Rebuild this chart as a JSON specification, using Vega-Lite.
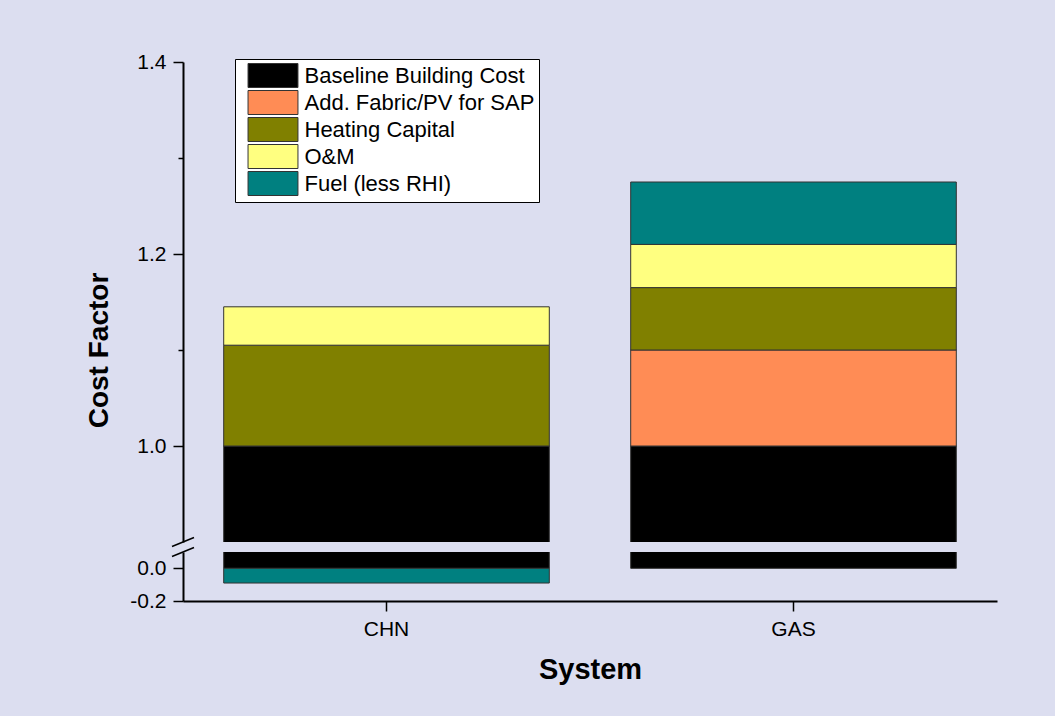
{
  "$schema": "https://vega.github.io/schema/vega-lite/v6.json",
  "background": "#dcdef0",
  "padding": {"left": 85, "top": 51, "right": 58, "bottom": 32},
  "config": {
    "font": "Liberation Sans",
    "view": {"stroke": null},
    "axis": {"labelColor": "black", "titleColor": "black", "domainColor": "black", "tickColor": "black", "grid": false}
  },
  "datasets": {
    "costs": [
      {"system": "CHN", "component": "Baseline Building Cost", "value": 1.0, "k": 1},
      {"system": "CHN", "component": "Heating Capital", "value": 0.105, "k": 3},
      {"system": "CHN", "component": "O&M", "value": 0.04, "k": 4},
      {"system": "CHN", "component": "Fuel (less RHI)", "value": -0.09, "k": 5},
      {"system": "GAS", "component": "Baseline Building Cost", "value": 1.0, "k": 1},
      {"system": "GAS", "component": "Add. Fabric/PV for SAP", "value": 0.1, "k": 2},
      {"system": "GAS", "component": "Heating Capital", "value": 0.065, "k": 3},
      {"system": "GAS", "component": "O&M", "value": 0.045, "k": 4},
      {"system": "GAS", "component": "Fuel (less RHI)", "value": 0.065, "k": 5}
    ],
    "breakTop": [{"at": 0.9}],
    "breakBottom": [{"at": 0.1}]
  },
  "bounds": "flush",
  "spacing": 10,
  "vconcat": [
    {
      "width": 814,
      "height": 480,
      "layer": [
        {
          "data": {"name": "costs"},
          "mark": {"type": "bar", "clip": true, "stroke": "#333333", "strokeWidth": 1},
          "encoding": {
            "x": {"field": "system", "type": "nominal", "scale": {"paddingInner": 0.2, "paddingOuter": 0.1}, "axis": null},
            "y": {
              "field": "value", "type": "quantitative", "stack": "zero",
              "scale": {"domain": [0.9, 1.4], "nice": false, "zero": false},
              "axis": {
                "title": "Cost Factor",
                "values": [1.0, 1.1, 1.2, 1.3, 1.4],
                "format": ".1f",
                "labelExpr": "abs(round(datum.value*10))%2==0 ? replace(datum.label, '\u2212', '-') : ''",
                "tickSize": {"condition": {"test": "abs(round(datum.value*10))%2==0", "value": 10}, "value": 5},
                "tickWidth": 1.5,
                "domainWidth": 2,
                "labelFontSize": 21,
                "labelPadding": 7,
                "titleFontSize": 28,
                "titleFontWeight": "bold",
                "titlePadding": 23,
                "titleY": 288
              }
            },
            "color": {
              "field": "component", "type": "nominal",
              "scale": {
                "domain": ["Baseline Building Cost", "Add. Fabric/PV for SAP", "Heating Capital", "O&M", "Fuel (less RHI)"],
                "range": ["#000000", "#ff8c55", "#808000", "#ffff80", "#008080"]
              },
              "legend": {
                "orient": "none", "legendX": 52, "legendY": -3,
                "title": null,
                "fillColor": "white", "strokeColor": "black",
                "padding": 4,
                "symbolType": "M-2.08,-1H2.08V1H-2.08Z",
                "symbolSize": 576,
                "symbolStrokeColor": "black",
                "symbolStrokeWidth": 1,
                "symbolOpacity": 1,
                "symbolOffset": 21.5,
                "labelOffset": 19,
                "labelFontSize": 22,
                "labelColor": "black",
                "labelLimit": 400,
                "rowPadding": -2,
                "labelExpr": "datum.label + '\u2003'"
              }
            },
            "order": {"field": "k", "type": "quantitative"}
          }
        },
        {
          "data": {"name": "breakTop"},
          "mark": {"type": "point", "shape": "M-1,0.41L1,-0.41", "size": 484, "stroke": "black", "strokeWidth": 1.5, "filled": false, "opacity": 1},
          "encoding": {
            "x": {"value": 0},
            "y": {"field": "at", "type": "quantitative", "axis": {"title": "Cost Factor"}}
          }
        }
      ]
    },
    {
      "width": 814,
      "height": 49,
      "layer": [
        {
          "data": {"name": "costs"},
          "mark": {"type": "bar", "clip": true, "stroke": "#333333", "strokeWidth": 1},
          "encoding": {
            "x": {
              "field": "system", "type": "nominal", "scale": {"paddingInner": 0.2, "paddingOuter": 0.1},
              "axis": {
                "title": "System", "labelAngle": 0, "labelFontSize": 21, "tickSize": 10, "tickWidth": 1.5,
                "domainWidth": 2, "labelPadding": 7, "titleFontSize": 29, "titleFontWeight": "bold", "titlePadding": 16
              }
            },
            "y": {
              "field": "value", "type": "quantitative", "stack": "zero",
              "scale": {"domain": [-0.2, 0.1], "nice": false, "zero": false},
              "axis": {
                "title": null,
                "values": [-0.2, -0.1, 0.0],
                "format": ".1f",
                "labelExpr": "abs(round(datum.value*10))%2==0 ? replace(datum.label, '\u2212', '-') : ''",
                "tickSize": {"condition": {"test": "abs(round(datum.value*10))%2==0", "value": 10}, "value": 5},
                "tickWidth": 1.5,
                "domainWidth": 2,
                "labelFontSize": 21,
                "labelPadding": 7
              }
            },
            "color": {"field": "component", "type": "nominal"},
            "order": {"field": "k", "type": "quantitative"}
          }
        },
        {
          "data": {"name": "breakBottom"},
          "mark": {"type": "point", "shape": "M-1,0.41L1,-0.41", "size": 484, "stroke": "black", "strokeWidth": 1.5, "filled": false, "opacity": 1},
          "encoding": {
            "x": {"value": 0},
            "y": {"field": "at", "type": "quantitative", "axis": {"title": null}}
          }
        }
      ]
    }
  ]
}
